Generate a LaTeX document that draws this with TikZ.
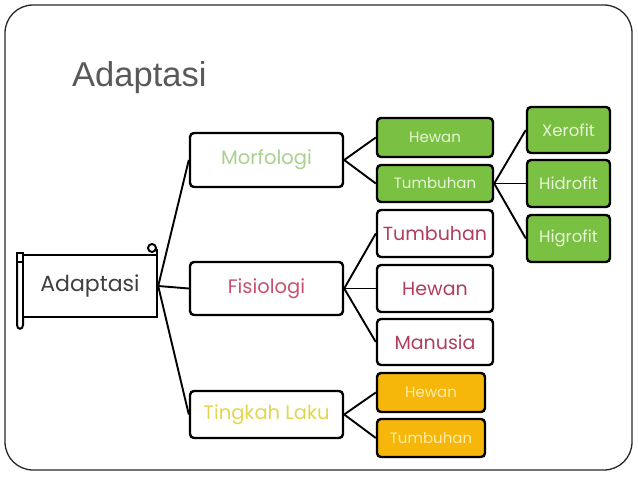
\documentclass[tikz,border=0pt]{standalone}
\usepackage{fontspec}
\setmainfont{Poppins}
\newfontfamily\titlefont{Liberation Sans}
\definecolor{titlegray}{RGB}{89,89,89}
\definecolor{darktext}{RGB}{64,64,64}
\definecolor{morfcol}{RGB}{169,208,142}
\definecolor{fisiocol}{RGB}{196,82,112}
\definecolor{tingkahcol}{RGB}{226,214,80}
\definecolor{redtext}{RGB}{176,62,92}
\definecolor{greenfill}{RGB}{122,192,66}
\definecolor{greentext}{RGB}{232,245,216}
\definecolor{orangefill}{RGB}{246,183,10}
\definecolor{orangetext}{RGB}{255,236,170}
\definecolor{framecol}{RGB}{40,40,40}
\tikzset{
  base/.style={draw=black, line width=2.4pt, rounded corners=4pt, inner sep=0pt, align=center},
  whitebox/.style={base, fill=white},
  greenbox/.style={base, fill=greenfill, text=greentext, font=\fontsize{15}{17}\selectfont},
  orangebox/.style={base, fill=orangefill, text=orangetext, font=\fontsize{15}{17}\selectfont},
  leafbox/.style={greenbox, font=\fontsize{16.5}{19}\selectfont},
  redbox/.style={whitebox, text=redtext, font=\fontsize{19}{22}\selectfont},
  midbox/.style={whitebox, font=\fontsize{19.5}{22}\selectfont},
  link/.style={draw=black, line width=1.9pt},
}
\begin{document}
\begin{tikzpicture}[x=1pt,y=-1pt]
\useasboundingbox (0,0) rectangle (638,479);
\draw[framecol, line width=1.3pt, rounded corners=28pt] (5,5) rectangle (632,470);
\node[text=titlegray, font=\titlefont\fontsize{34.5}{40}\selectfont, anchor=base west, inner sep=0pt] (title) at (72,86) {Adaptasi};

% scroll shape
\draw[line width=2pt] (17,253) rectangle (23,262);
\draw[line width=2pt] (17,262) -- (17,325) .. controls (17,330) and (23,330) .. (23,325) -- (23,317);
\draw[line width=2pt] (152,248) circle (4pt);
\draw[line width=2.4pt] (157,317) -- (157,249);
\node[draw=black, line width=2.4pt, fill=white, minimum width=134pt, minimum height=62pt, inner sep=0pt, text=darktext, font=\fontsize{22}{25}\selectfont] (adapt) at (90,286) {Adaptasi};

% second level
\node[midbox, minimum width=153pt, minimum height=54pt, text=morfcol] (morf) at (266.5,160) {Morfologi};
\node[midbox, minimum width=153pt, minimum height=53pt, text=fisiocol] (fisio) at (266.5,288.5) {Fisiologi};
\node[midbox, minimum width=153pt, minimum height=47pt, text=tingkahcol] (tingkah) at (266.5,414.5) {Tingkah Laku};

% third level
\node[greenbox, minimum width=116pt, minimum height=39pt] (ghewan) at (435,137.5) {Hewan};
\node[greenbox, minimum width=116pt, minimum height=37pt] (gtumb) at (435,183.5) {Tumbuhan};
\node[redbox, minimum width=116pt, minimum height=47pt] (rtumb) at (435,233.5) {Tumbuhan};
\node[redbox, minimum width=116pt, minimum height=47pt] (rhewan) at (435,288.5) {Hewan};
\node[redbox, minimum width=116pt, minimum height=46pt] (rmanusia) at (435,342) {Manusia};
\node[orangebox, minimum width=108pt, minimum height=39pt] (ohewan) at (431,392.5) {Hewan};
\node[orangebox, minimum width=108pt, minimum height=38pt] (otumb) at (431,438) {Tumbuhan};

% fourth level
\node[leafbox, minimum width=83pt, minimum height=46pt] (xero) at (568.5,130) {Xerofit};
\node[leafbox, minimum width=83pt, minimum height=47pt] (hidro) at (568.5,183.5) {Hidrofit};
\node[leafbox, minimum width=83pt, minimum height=47pt] (higro) at (568.5,238.5) {Higrofit};

% connectors
\draw[link] (adapt.east) -- (morf.west);
\draw[link] (adapt.east) -- (fisio.west);
\draw[link] (adapt.east) -- (tingkah.west);
\draw[link] (morf.east) -- (ghewan.west);
\draw[link] (morf.east) -- (gtumb.west);
\draw[link] (fisio.east) -- (rtumb.west);
\draw[link] (fisio.east) -- (rhewan.west);
\draw[link] (fisio.east) -- (rmanusia.west);
\draw[link] (tingkah.east) -- (ohewan.west);
\draw[link] (tingkah.east) -- (otumb.west);
\draw[link] (gtumb.east) -- (xero.west);
\draw[link] (gtumb.east) -- (hidro.west);
\draw[link] (gtumb.east) -- (higro.west);
\end{tikzpicture}
\end{document}
